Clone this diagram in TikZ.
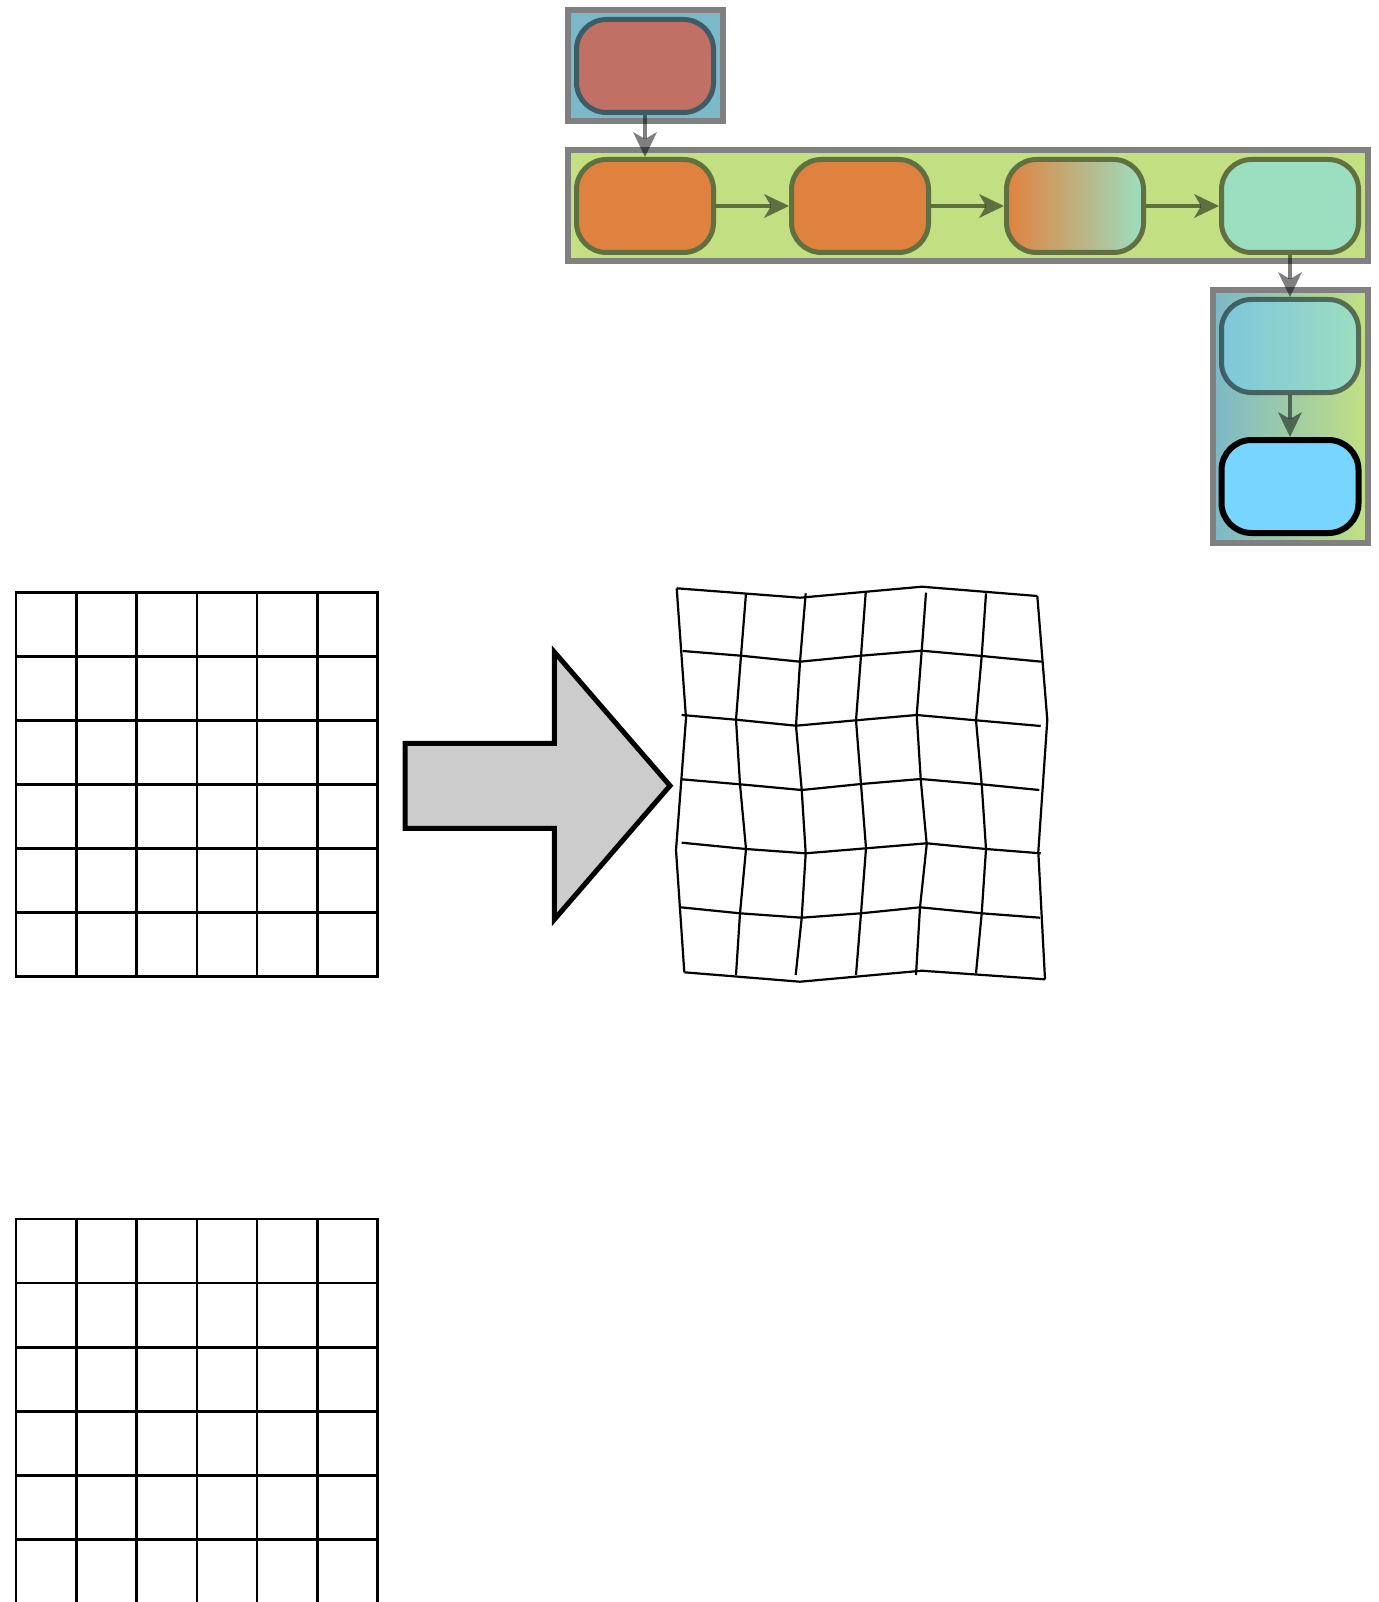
\documentclass[tikz,border=0pt]{standalone}
\usetikzlibrary{positioning}
\usetikzlibrary{backgrounds}
\usetikzlibrary{arrows.meta}

\definecolor{srcred}{HTML}{C07064}
\definecolor{stageorange}{HTML}{E0823F}
\definecolor{stagemint}{HTML}{9CDEC0}
\definecolor{stagesky}{HTML}{7EC6DC}
\definecolor{outblue}{HTML}{77D5FF}
\definecolor{boxblue}{HTML}{7BB8C9}
\definecolor{boxgreen}{HTML}{C2E082}
\definecolor{edgeblue}{HTML}{3E5C64}
\definecolor{edgegreen}{HTML}{617041}
\definecolor{arrowgray}{HTML}{CCCCCC}

\tikzset{
  stage/.style={rectangle, rounded corners=30pt, draw=edgegreen, line width=5pt, minimum width=137pt, minimum height=93pt},
  link/.style={black, opacity=0.5, line width=4pt, -{Stealth[length=25pt, width=24pt, inset=7pt, line width=0pt]}},
  groupbox/.style={draw=gray, line width=6pt},
  gridline/.style={line width=2.6pt, line cap=rect},
  warpline/.style={line width=2.2pt}
}

\begin{document}
\begin{tikzpicture}[x=1pt, y=-1pt]
  \useasboundingbox (0,0) rectangle (1378,1602);

    % Nodes
    \node[stage, fill=srcred, draw=edgeblue] (src) at (645,66) {};
    \node[stage, fill=stageorange, below=42pt of src] (p1) {};
    \node[stage, fill=stageorange, right=73pt of p1] (p2) {};
    \node[stage, left color=stageorange, right color=stagemint, right=73pt of p2] (p3) {};
    \node[stage, fill=stagemint, right=73pt of p3] (p4) {};
    \node[stage, left color=stagesky, right color=stagemint, draw=black, draw opacity=0.5, below=42pt of p4] (mix) {};
    \node[stage, fill=outblue, draw=black, line width=6pt, below=42pt of mix] (out) {};

    % Links
    \draw[link] (src) -- (p1);
    \draw[link] (p1) -- (p2);
    \draw[link] (p2) -- (p3);
    \draw[link] (p3) -- (p4);
    \draw[link] (p4) -- (mix);
    \draw[link] (mix) -- (out);

    % Groups
    \begin{scope}[on background layer]
      \draw[groupbox, fill=boxblue] ([shift={(-6.5pt,-6.5pt)}]src.south west) rectangle ([shift={(6.5pt,6.5pt)}]src.north east);
      \draw[groupbox, fill=boxgreen] ([shift={(-6.5pt,-6.5pt)}]p1.south west) rectangle ([shift={(6.5pt,6.5pt)}]p4.north east);
      \draw[groupbox, left color=boxblue, right color=boxgreen] ([shift={(-6.5pt,6.5pt)}]mix.north west) rectangle ([shift={(6.5pt,-6.5pt)}]out.south east);
    \end{scope}

    % Regular grid
    \foreach \i in {0,...,6} {
      \draw[gridline] (16+\i*60.28,592.3) -- (16+\i*60.28,976.7);
      \draw[gridline] (16,592.3+\i*64.07) -- (377.7,592.3+\i*64.07);
    }

    % Big arrow
    \draw[line width=5pt, fill=arrowgray] (405,743.3) -- (554.3,743.3) -- (554.3,652) -- (670,785.7)
      -- (554.3,919.5) -- (554.3,828.3) -- (405,828.3) -- cycle;

    % Warped grid, rows
    \draw[warpline] (676.7,588.3) -- (800,597.7) -- (921.7,586.7) -- (1037.3,596);
    \draw[warpline] (682.7,651) -- (741,655.7) -- (800,661.7) -- (861,655.7) -- (921.7,650.7) -- (981.7,656) -- (1041.7,661.7);
    \draw[warpline] (681.7,715) -- (736,719.7) -- (796,725.7) -- (856,720.3) -- (916.7,715) -- (976,720.3) -- (1040.7,726);
    \draw[warpline] (681.7,779.3) -- (740,784.3) -- (801.7,790) -- (861,784) -- (920.7,779) -- (981.7,784.3) -- (1039.3,790);
    \draw[warpline] (681.7,842.7) -- (746,849) -- (805.7,853.3) -- (866,848.3) -- (926.7,843.3) -- (986,849) -- (1040.7,853.3);
    \draw[warpline] (680.7,907.3) -- (740,913.3) -- (801.7,917.7) -- (861,913.3) -- (920,907.3) -- (981.7,913.3) -- (1040,917.7);
    \draw[warpline] (684.3,972.3) -- (800,981.7) -- (921.7,970.7) -- (1045,979.3);

    % Warped grid, columns
    \draw[warpline] (676.7,588.3) -- (686,718.3) -- (676,850) -- (684.3,972.3);
    \draw[warpline] (746,593.3) -- (741,655.7) -- (736,719.7) -- (740,784.3) -- (746,849) -- (740,913.3) -- (736,975);
    \draw[warpline] (805.7,593.3) -- (800,661.7) -- (796,725.7) -- (801.7,790) -- (805.7,853.3) -- (801.7,917.7) -- (795.7,975);
    \draw[warpline] (865.7,592.7) -- (861,655.7) -- (856,720.3) -- (861,784) -- (866,848.3) -- (861,913.3) -- (856,975);
    \draw[warpline] (926,592.7) -- (921.7,650.7) -- (916.7,715) -- (920.7,779) -- (926.7,844.3) -- (920,907.3) -- (916,975);
    \draw[warpline] (986,593.3) -- (981.7,656) -- (976,720.3) -- (981.7,784.3) -- (986,849) -- (981.7,913.3) -- (976,973.3);
    \draw[warpline] (1037.3,596) -- (1047.3,720) -- (1038.3,851.7) -- (1045,979.3);

    % Second regular grid, runs off the bottom edge
    \foreach \i in {0,...,6} {
      \draw[gridline] (16+\i*60.28,1219) -- (16+\i*60.28,1610);
    }
    \foreach \i in {0,...,5} {
      \draw[gridline] (16,1219+\i*64.1) -- (377.7,1219+\i*64.1);
    }

\end{tikzpicture}
\end{document}
